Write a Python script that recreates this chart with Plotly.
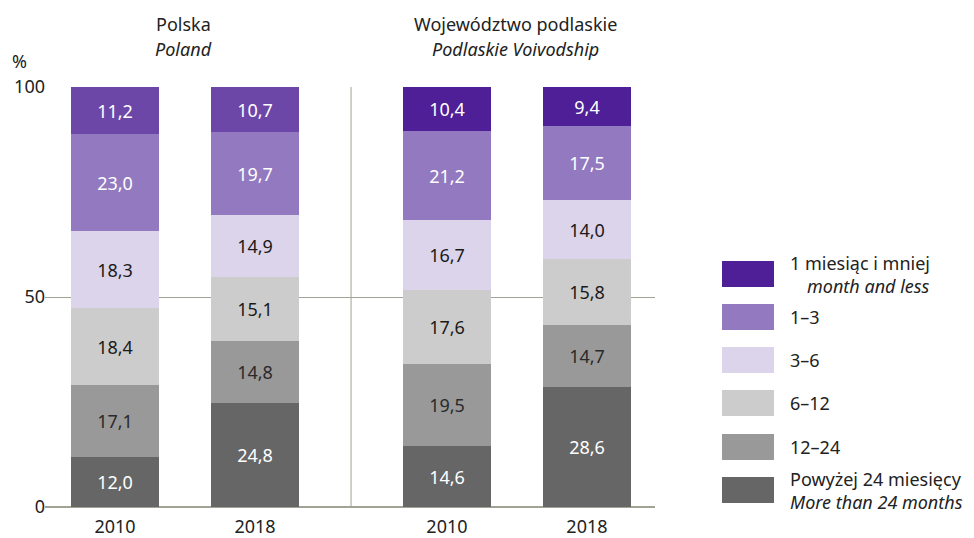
import plotly.graph_objects as go

# ---- data ----
years = ["2010", "2018", "2010", "2018"]
groups = ["Polska", "Polska", "Podlaskie", "Podlaskie"]
x_pos = [0.0, 1.0, 2.371, 3.371]

cat_labels = ["Powyżej 24 miesięcy", "12–24", "6–12", "3–6", "1–3", "1 miesiąc i mniej"]
v_over24 = [12.0, 24.8, 14.6, 28.6]
v_12_24 = [17.1, 14.8, 19.5, 14.7]
v_6_12 = [18.4, 15.1, 17.6, 15.8]
v_3_6 = [18.3, 14.9, 16.7, 14.0]
v_1_3 = [23.0, 19.7, 21.2, 17.5]
v_le1 = [11.2, 10.7, 10.4, 9.4]

series = [v_over24, v_12_24, v_6_12, v_3_6, v_1_3, v_le1]
colors = ["#666666", "#999999", "#cccccc", "#dcd4ea", "#9279c0", "#4e1f96"]
top_colors_per_bar = ["#6c47a8", "#6c47a8", "#4e1f96", "#4e1f96"]
text_colors = ["#ffffff", "#2a2a2a", "#1a1a1a", "#1a1a1a", "#ffffff", "#ffffff"]

FONT = "Noto Sans"
FS = 18

fig = go.Figure()
for i, (vals, name) in enumerate(zip(series, cat_labels)):
    mcol = top_colors_per_bar if i == 5 else colors[i]
    fig.add_trace(go.Bar(
        x=x_pos, y=vals, name=name,
        width=0.63,
        marker=dict(color=mcol, line=dict(width=0)),
        text=[f"{v:.1f}".replace(".", ",") for v in vals],
        textposition="inside", insidetextanchor="middle", textangle=0,
        constraintext="none",
        textfont=dict(family=FONT, size=FS, color=text_colors[i]),
        showlegend=False,
    ))

GRID = "#a3a395"
# page has an 8px body margin: figure is offset by 8px right and down
fig.update_layout(
    barmode="stack",
    width=966, height=530,
    margin=dict(l=37, r=319, t=79, b=31, autoexpand=False),
    paper_bgcolor="white", plot_bgcolor="white",
    font=dict(family=FONT, size=FS, color="#222222"),
    bargap=0,
    xaxis=dict(range=[-0.5, 3.857], tickvals=x_pos, ticktext=years,
               showgrid=False, zeroline=False, showline=False, automargin=False,
               tickfont=dict(size=FS, color="#222222"), ticks="",
               ticklabelstandoff=7),
    yaxis=dict(range=[0, 100], tickvals=[0, 50, 100], ticktext=["0", "50", "100"],
               showgrid=True, gridcolor=GRID, gridwidth=1, automargin=False,
               zeroline=True, zerolinecolor=GRID, showline=False,
               ticks="", ticklabelstandoff=-1,
               tickfont=dict(size=FS, color="#222222")),
)

# separator between groups
fig.add_shape(type="line", xref="x", yref="y", x0=1.686, x1=1.686, y0=0, y1=100,
              line=dict(color=GRID, width=1), layer="below")


def px(xp):
    return (xp - 45) / 610.0


def py(yp):
    return (507 - yp) / 420.0


ann = []
ann.append(dict(text="%", x=px(19), y=py(61)))
ann.append(dict(text="Polska", x=px(183), y=py(24)))
ann.append(dict(text="<i>Poland</i>", x=px(183), y=py(49)))
ann.append(dict(text="Województwo podlaskie", x=px(516), y=py(24)))
ann.append(dict(text="<i>Podlaskie Voivodship</i>", x=px(516), y=py(49)))

# legend (top to bottom)
IND = "\u00a0\u00a0\u00a0\u2009"
leg_colors = colors[::-1]
leg_centers = [274, 317, 360, 403, 447, 490]
leg_text = [
    "1 miesiąc i mniej<br>" + IND + "<i>month and less</i>",
    "1–3",
    "3–6",
    "6–12",
    "12–24",
    "Powyżej 24 miesięcy<br><i>More than 24 months</i>",
]
for c, yc, t in zip(leg_colors, leg_centers, leg_text):
    fig.add_shape(type="rect", xref="paper", yref="paper",
                  x0=px(722), x1=px(774), y0=py(yc + 13), y1=py(yc - 13),
                  fillcolor=c, line=dict(width=0))
    ann.append(dict(text=t, x=px(788), y=py(yc), xanchor="left", align="left"))

for a in ann:
    a.setdefault("xanchor", "center")
    fig.add_annotation(xref="paper", yref="paper", showarrow=False,
                       yanchor="middle", font=dict(family=FONT, size=FS, color="#222222"), **a)

fig.write_html("out.html")
